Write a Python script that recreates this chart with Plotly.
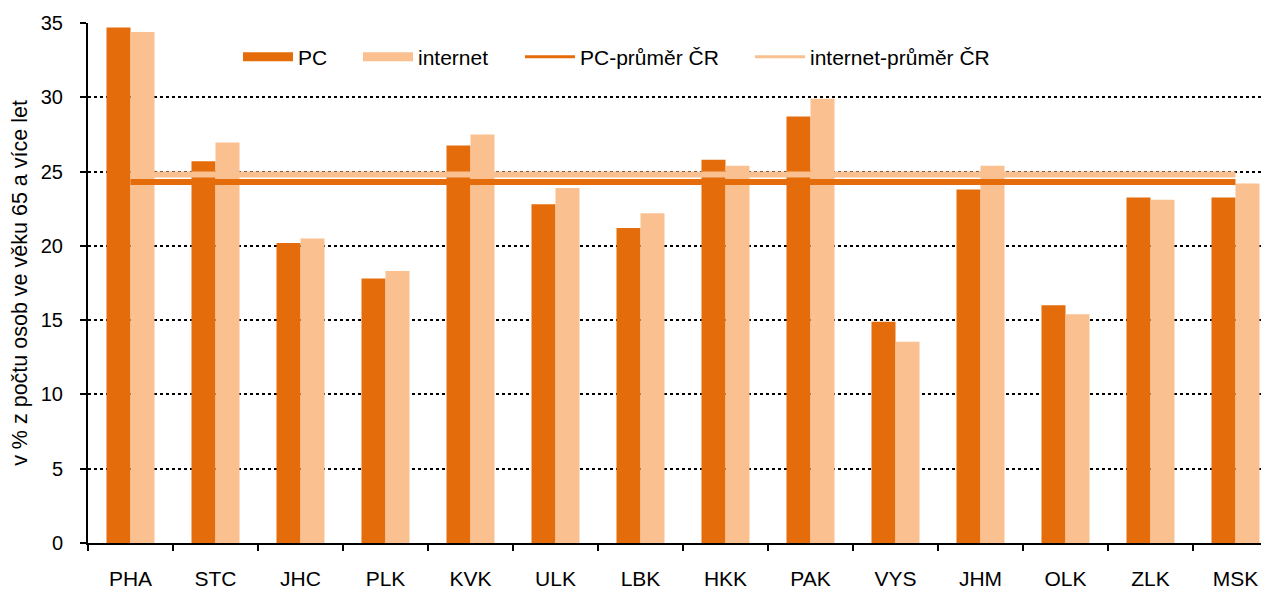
import plotly.graph_objects as go

categories = ["PHA", "STC", "JHC", "PLK", "KVK", "ULK", "LBK", "HKK", "PAK", "VYS", "JHM", "OLK", "ZLK", "MSK"]
pc_values = [34.7, 25.7, 20.2, 17.8, 26.75, 22.8, 21.2, 25.8, 28.7, 14.9, 23.8, 16.0, 23.25, 23.25]
internet_values = [34.4, 26.95, 20.5, 18.3, 27.5, 23.9, 22.2, 25.4, 29.9, 13.55, 25.4, 15.4, 23.1, 24.2]
pc_avg = 24.3
internet_avg = 24.8
y_ticks = [0, 5, 10, 15, 20, 25, 30, 35]

PC_COLOR = "#E46C0A"
NET_COLOR = "#FAC090"
FONT = "Liberation Sans, Arial, sans-serif"

fig = go.Figure()
fig.add_trace(go.Bar(x=categories, y=pc_values, name="PC", marker_color=PC_COLOR,
                     marker_line_width=0, showlegend=False))
fig.add_trace(go.Bar(x=categories, y=internet_values, name="internet", marker_color=NET_COLOR,
                     marker_line_width=0, showlegend=False))
fig.add_trace(go.Scatter(x=categories, y=[internet_avg] * len(categories), mode="lines",
                         line=dict(color=NET_COLOR, width=6), showlegend=False, hoverinfo="skip"))
fig.add_trace(go.Scatter(x=categories, y=[pc_avg] * len(categories), mode="lines",
                         line=dict(color=PC_COLOR, width=6), showlegend=False, hoverinfo="skip"))

# legend entries
legend_items = [("PC", PC_COLOR, 9, "legend"), ("internet", NET_COLOR, 9, "legend2"),
                ("PC-průměr ČR", PC_COLOR, 3, "legend3"), ("internet-průměr ČR", NET_COLOR, 3, "legend4")]
for name, col, w, lg in legend_items:
    fig.add_trace(go.Scatter(x=[None], y=[None], mode="lines", name=name,
                             line=dict(color=col, width=w), legend=lg))

OFF = 8  # page body margin
W, H = 1269 - OFF, 590 - OFF
ml, mt = 88 - OFF, 23 - OFF
mb = H - (543 - OFF)
plot_w = W - ml
plot_h = H - mt - mb
cat_px = 85.0
x_max = -0.5 + plot_w / cat_px

def lx(page_px):
    return (page_px - OFF - 5 - ml) / plot_w

ly = (H - mb - (57 - OFF)) / plot_h
leg_common = dict(orientation="h", yanchor="middle", y=ly, xanchor="left",
                  font=dict(family=FONT, size=21, color="#000000"),
                  bgcolor="rgba(0,0,0,0)", itemwidth=50, tracegroupgap=0)

fig.update_layout(
    width=W, height=H,
    margin=dict(l=ml, r=0, t=mt, b=mb, autoexpand=False),
    plot_bgcolor="white", paper_bgcolor="white",
    barmode="group", bargap=0.435, bargroupgap=0,
    font=dict(family=FONT, size=20, color="#000000"),
    legend=dict(x=lx(243), **leg_common),
    legend2=dict(x=lx(363), **leg_common),
    legend3=dict(x=lx(525), **leg_common),
    legend4=dict(x=lx(755), **leg_common),
    xaxis=dict(range=[-0.5, x_max], showline=True, linecolor="black", linewidth=2,
               ticks="outside", tickson="boundaries", ticklen=6, tickwidth=2, tickcolor="black",
               tickfont=dict(family=FONT, size=21), showgrid=False, zeroline=False,
               ticklabelstandoff=16, automargin=False),
    yaxis=dict(range=[0, 35], tickvals=y_ticks, showline=True, linecolor="black", linewidth=2,
               ticks="outside", ticklen=6, tickwidth=2, tickcolor="black",
               tickfont=dict(family=FONT, size=20), ticklabelstandoff=13,
               showgrid=True, gridcolor="black", gridwidth=1.5, griddash="dot", zeroline=False,
               automargin=True,
               title=dict(text="v % z počtu osob ve věku 65 a více let",
                          font=dict(family=FONT, size=21.5), standoff=8)),
)

fig.write_html("out.html")
